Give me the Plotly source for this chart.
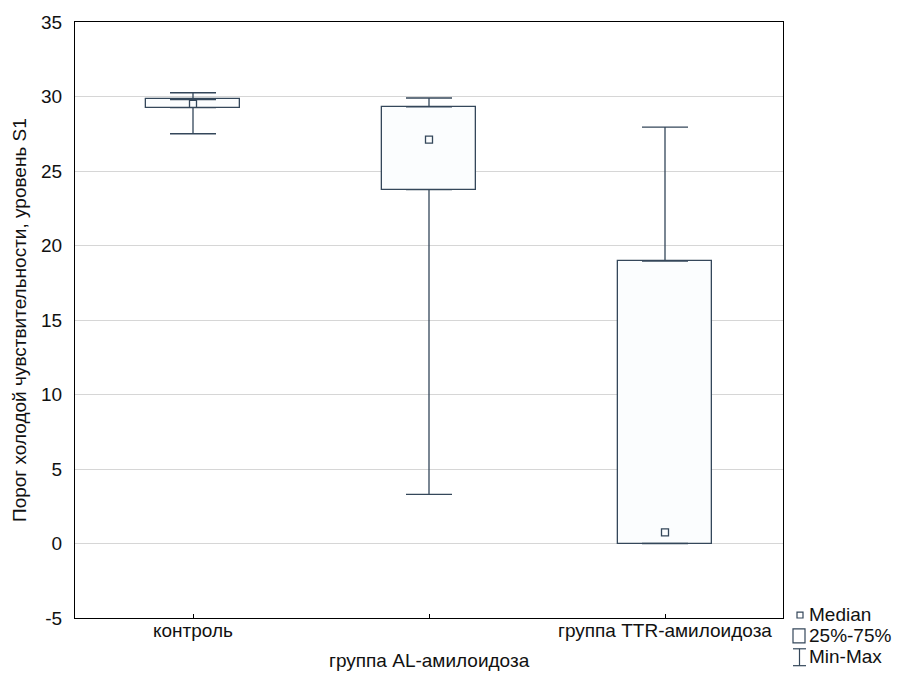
import plotly.graph_objects as go

# Cold sensitivity threshold, level S1: min / quartiles / median / max per group
categories = ["контроль", "группа AL-амилоидоза", "группа TTR-амилоидоза"]
v_min = [27.5, 3.3, 0.0]
v_q1 = [29.25, 23.75, 0.0]
v_median = [29.5, 27.1, 0.75]
v_q3 = [29.8, 29.3, 18.95]
v_max = [30.25, 29.9, 27.95]

y_ticks = [-5, 0, 5, 10, 15, 20, 25, 30, 35]
y_tick_text = ["-5", "0", "5", "10", "15", "20", "25", "30", "35"]
y_title = "Порог холодой чувствительности, уровень S1"
legend_labels = ["Median", "25%-75%", "Min-Max"]

FONT = "Liberation Sans, Arial, sans-serif"
FS = 19
INK = "#34475a"
FILL = "#fbfdfe"

W, H = 900, 677
ML, MR, MT, MB = 75, 117, 18, 59
PW, PH = W - ML - MR, H - MT - MB


def px_x(px):
    return (px - ML) / PW


def px_y(py):
    return (H - MB - py) / PH


pos = list(range(len(categories)))

fig = go.Figure()

# interquartile boxes
fig.add_trace(go.Bar(
    x=pos, base=v_q1, y=[b - a for a, b in zip(v_q1, v_q3)],
    width=0.395, marker=dict(color=FILL, line=dict(color=INK, width=1.3)),
    hoverinfo="skip", showlegend=False,
))

# upper whiskers (q3 -> max)
fig.add_trace(go.Scatter(
    x=pos, y=v_q3, mode="markers", marker=dict(size=1, opacity=0),
    error_y=dict(type="data", symmetric=False,
                 array=[b - a for a, b in zip(v_q3, v_max)],
                 arrayminus=[0] * len(pos),
                 color=INK, thickness=1.3, width=23),
    hoverinfo="skip", showlegend=False,
))

# lower whiskers (min -> q1)
fig.add_trace(go.Scatter(
    x=pos, y=v_q1, mode="markers", marker=dict(size=1, opacity=0),
    error_y=dict(type="data", symmetric=False,
                 array=[0] * len(pos),
                 arrayminus=[a - b for a, b in zip(v_q1, v_min)],
                 color=INK, thickness=1.3, width=23),
    hoverinfo="skip", showlegend=False,
))

# medians
fig.add_trace(go.Scatter(
    x=pos, y=v_median, mode="markers",
    marker=dict(symbol="square", size=7, color=FILL, line=dict(color=INK, width=1.3)),
    showlegend=False,
))

# category labels, the middle one staggered below
annotations = []
for i, name in enumerate(categories):
    annotations.append(dict(
        x=i, xref="x", y=px_y(631 if i != 1 else 661), yref="paper",
        text=name, showarrow=False, xanchor="center", yanchor="middle",
        font=dict(family=FONT, size=FS, color="#111"),
    ))

annotations.append(dict(
    x=px_x(19), xref="paper", y=0.5, yref="paper", text=y_title,
    textangle=-90, showarrow=False, xanchor="center", yanchor="middle",
    font=dict(family=FONT, size=FS, color="#111"),
))

# legend box (drawn by hand to get the marker glyphs)
leg_y = [614, 636, 657]
for lab, ly in zip(legend_labels, leg_y):
    annotations.append(dict(
        x=px_x(807), xref="paper", y=px_y(ly), yref="paper", text=lab,
        showarrow=False, xanchor="left", yanchor="middle",
        font=dict(family=FONT, size=FS, color="#111"),
    ))

shape_line = dict(color=INK, width=1.2)
shapes = [
    dict(type="rect", xref="paper", yref="paper",
         x0=px_x(797), x1=px_x(803), y0=px_y(618), y1=px_y(612), line=shape_line),
    dict(type="rect", xref="paper", yref="paper",
         x0=px_x(793), x1=px_x(805), y0=px_y(643), y1=px_y(629), line=shape_line),
    dict(type="line", xref="paper", yref="paper",
         x0=px_x(793), x1=px_x(806), y0=px_y(649), y1=px_y(649), line=shape_line),
    dict(type="line", xref="paper", yref="paper",
         x0=px_x(799.5), x1=px_x(799.5), y0=px_y(649), y1=px_y(666), line=shape_line),
    dict(type="line", xref="paper", yref="paper",
         x0=px_x(793), x1=px_x(806), y0=px_y(666), y1=px_y(666), line=shape_line),
]

fig.update_layout(
    width=W, height=H,
    margin=dict(l=ML, r=MR, t=MT, b=MB, pad=0),
    paper_bgcolor="white", plot_bgcolor="white",
    font=dict(family=FONT, size=FS, color="#111"),
    showlegend=False,
    annotations=annotations,
    shapes=shapes,
    bargap=0,
)

fig.update_xaxes(
    range=[-0.5, len(categories) - 0.5], tickvals=pos, showticklabels=False,
    ticks="inside", ticklen=4, tickcolor="black",
    showgrid=False, zeroline=False,
    showline=True, linecolor="black", linewidth=1.2, mirror=True,
)
fig.update_yaxes(
    range=[-5, 35], tickvals=y_ticks, ticktext=y_tick_text,
    ticks="", ticklabelstandoff=8,
    showgrid=True, gridcolor="#d6d6d6", gridwidth=1, zeroline=False,
    showline=True, linecolor="black", linewidth=1.2, mirror=True,
    tickfont=dict(family=FONT, size=FS, color="#111"),
)

fig.write_html("out.html")
